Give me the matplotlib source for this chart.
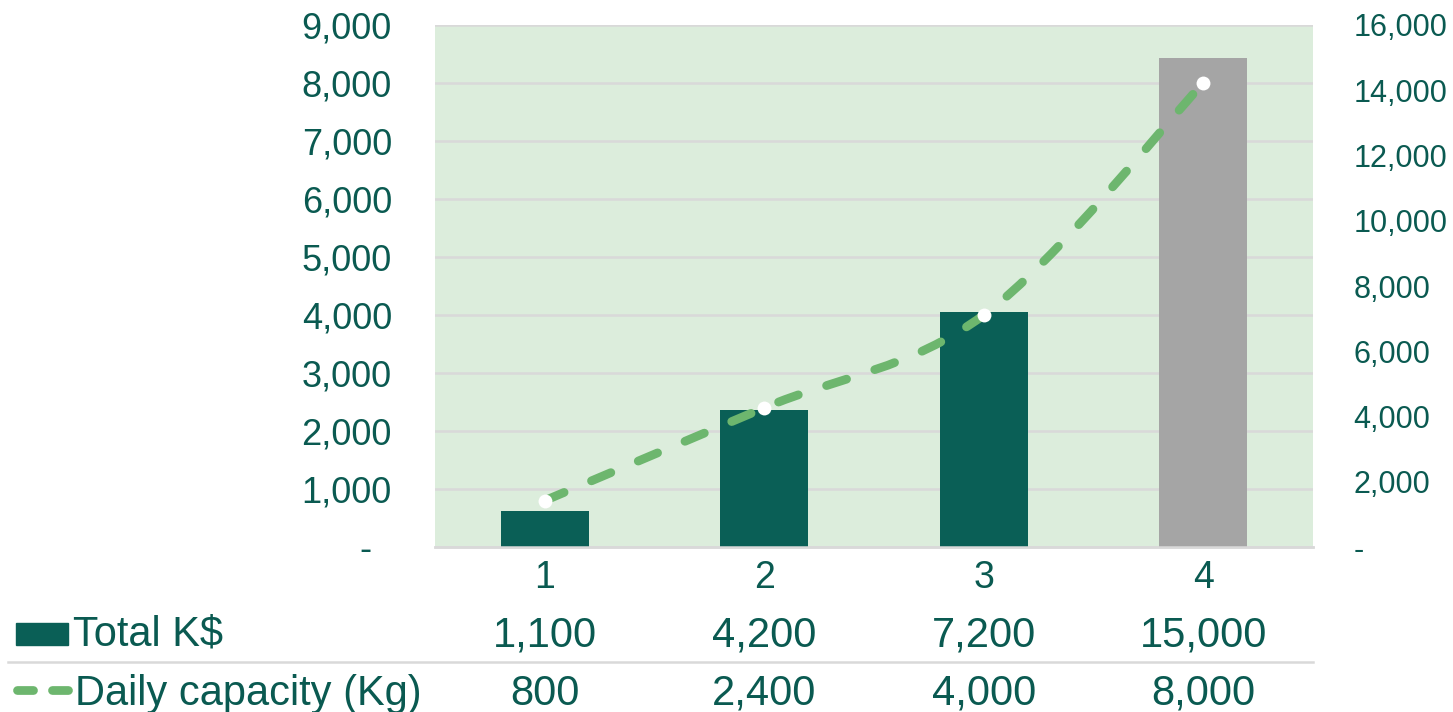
import matplotlib.pyplot as plt
import matplotlib.transforms as mtransforms
from matplotlib.path import Path
from matplotlib.patches import PathPatch, Rectangle
from matplotlib.lines import Line2D
from matplotlib.ticker import FuncFormatter, MultipleLocator
import numpy as np

# chart data
steps = ['1', '2', '3', '4']
total_kusd = [1100, 4200, 7200, 15000]        # bars, right axis
daily_capacity = [800, 2400, 4000, 8000]      # dashed line, left axis
bar_colors = ['#0A5F56', '#0A5F56', '#0A5F56', '#A5A5A5']

teal = '#0A5A51'
green = '#6DB66E'
W, H = 1453, 712

plt.rcParams['font.family'] = ['Liberation Sans', 'DejaVu Sans']

fig = plt.figure(figsize=(W / 100, H / 100), dpi=100)
ax = fig.add_axes([435 / W, 1 - 547 / H, (1313 - 435) / W, (547 - 25) / H])
ax2 = ax.twinx()

x = np.arange(len(steps))

# left axis (capacity): background and grid, sits underneath
ax.set_facecolor('#DCEDDC')
ax.set_ylim(0, 9000)
ax.yaxis.set_major_locator(MultipleLocator(1000))
ax.grid(axis='y', color='#D9D9D9', lw=1.8)
ax.set_axisbelow(True)

# bars on the right axis
ax2.bar(x, total_kusd, width=0.4, color=bar_colors, zorder=2)
ax2.set_ylim(0, 16000)
ax2.yaxis.set_major_locator(MultipleLocator(2000))


# smoothed line through the capacity points (cubic bezier segments)
def smooth_path(xs, ys):
    pts = np.column_stack([xs, ys]).astype(float)
    n = len(pts)
    verts = [pts[0]]
    codes = [Path.MOVETO]
    for i in range(n - 1):
        p_prev = pts[i - 1] if i > 0 else pts[i]
        p_next2 = pts[i + 2] if i + 2 < n else pts[i + 1]
        c1 = pts[i] + (pts[i + 1] - p_prev) / 6
        c2 = pts[i + 1] - (p_next2 - pts[i]) / 6
        verts += [c1, c2, pts[i + 1]]
        codes += [Path.CURVE4] * 3
    return Path(verts, codes)


# the line is drawn on the top axes but in the left axis' data coordinates
dash = (0, (2.4, 3.4))
ax2.add_patch(PathPatch(smooth_path(x, daily_capacity), fill=False, transform=ax.transData,
                        ec=green, lw=6.3, ls=dash, capstyle='round', zorder=3))
ax2.plot(x, daily_capacity, 'o', color='white', ms=10, mec='none', zorder=4,
         transform=ax.transData)
ax2.set_ylim(0, 16000)
ax.set_xlim(-0.5, 3.5)

# tick formatting (accounting style dash for zero)
ax.yaxis.set_major_formatter(FuncFormatter(lambda v, p: '-  ' if v == 0 else f'{v:,.0f}'))
ax2.yaxis.set_major_formatter(FuncFormatter(lambda v, p: '-' if v == 0 else f'{v:,.0f}'))
ax.tick_params(axis='y', length=0, pad=31, labelsize=26, labelcolor=teal)
ax2.tick_params(axis='y', length=0, pad=29, labelsize=22, labelcolor=teal)
ax.set_xticks([])
ax2.set_xticks([])

for a in (ax, ax2):
    for side in ('left', 'right', 'top'):
        a.spines[side].set_visible(False)
    a.spines['bottom'].set_color('#D9D9D9')
    a.spines['bottom'].set_linewidth(1.8)

# data table under the chart
tr = mtransforms.blended_transform_factory(ax.transData, fig.transFigure)


def fy(py):
    return 1 - py / H


for xi, lab in zip(x, steps):
    ax.text(xi, fy(588), lab, transform=tr, ha='center', va='baseline',
            fontsize=27, color=teal, clip_on=False)
for xi, v in zip(x, total_kusd):
    ax.text(xi, fy(646), f'{v:,}', transform=tr, ha='center', va='baseline',
            fontsize=30, color=teal, clip_on=False)
for xi, v in zip(x, daily_capacity):
    ax.text(xi, fy(705), f'{v:,}', transform=tr, ha='center', va='baseline',
            fontsize=30, color=teal, clip_on=False)

# row separator
fig.add_artist(Line2D([8 / W, 1313 / W], [fy(662), fy(662)], color='#D9D9D9', lw=1.8))

# row headers with legend keys
fig.add_artist(Rectangle((16 / W, fy(645)), 52 / W, 22 / H, color='#0A5F56'))
fig.text(73 / W, fy(646), 'Total K$', fontsize=30, color=teal, va='baseline')
for x0, x1 in [(17, 33), (52, 68)]:
    fig.add_artist(Line2D([x0 / W, x1 / W], [fy(690), fy(690)], color=green,
                          lw=6.3, solid_capstyle='round'))
fig.text(75 / W, fy(705), 'Daily capacity (Kg)', fontsize=30, color=teal, va='baseline')

fig.savefig('out.png', dpi=100)
